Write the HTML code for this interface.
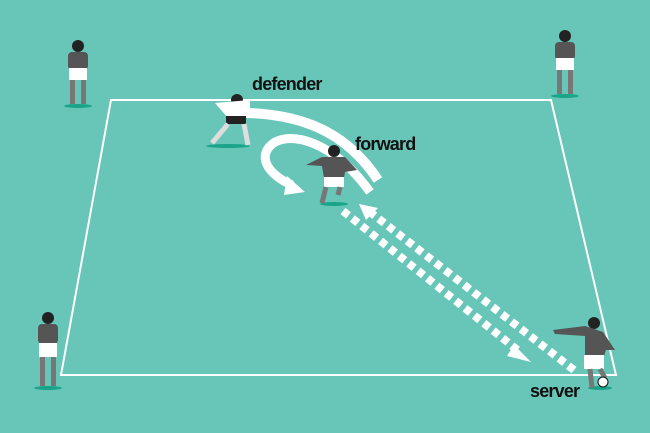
<!DOCTYPE html>
<html><head><style>
html,body{margin:0;padding:0;width:650px;height:433px;overflow:hidden;background:#67c6b8}
svg{display:block}
text{font-family:"Liberation Sans",sans-serif;font-weight:bold;font-size:18px;fill:#111;letter-spacing:-0.8px}
</style></head><body>
<svg width="650" height="433" viewBox="0 0 650 433">
<rect width="650" height="433" fill="#67c6b8"/>
<polygon points="111,100 551,100 616,375 61,375" fill="none" stroke="#fff" stroke-width="2"/>
<path d="M248,113 C300,115 345,130 378,180" fill="none" stroke="#fff" stroke-width="10"/>
<path d="M370,192 C340,150 300,130 275,142 C255,155 268,175 292,185" fill="none" stroke="#fff" stroke-width="9"/>
<polygon points="287,176 305,192 284,195" fill="#fff"/>
<line x1="343" y1="211" x2="520" y2="352" stroke="#fff" stroke-width="8" stroke-dasharray="7,5"/>
<polygon points="514,345 531,362 507,356" fill="#fff"/>
<line x1="574" y1="370" x2="370" y2="212" stroke="#fff" stroke-width="8" stroke-dasharray="7,5"/>
<polygon points="359,204 378,208 366,220" fill="#fff"/>
<g fill="#1aa58a">
<ellipse cx="78" cy="106" rx="14" ry="2"/><ellipse cx="565" cy="96" rx="14" ry="2"/>
<ellipse cx="228" cy="146" rx="22" ry="2"/><ellipse cx="334" cy="204" rx="14" ry="2"/>
<ellipse cx="48" cy="388" rx="14" ry="2"/><ellipse cx="600" cy="388" rx="12" ry="2"/>
</g>
<g>
<circle cx="78" cy="46" r="6" fill="#222"/><rect x="68" y="52" width="20" height="18" rx="4" fill="#555"/>
<rect x="69" y="68" width="18" height="12" fill="#fff"/><rect x="70" y="80" width="5" height="24" fill="#777"/><rect x="81" y="80" width="5" height="24" fill="#777"/>
<circle cx="565" cy="36" r="6" fill="#222"/><rect x="555" y="42" width="20" height="18" rx="4" fill="#555"/>
<rect x="556" y="58" width="18" height="12" fill="#fff"/><rect x="557" y="70" width="5" height="24" fill="#777"/><rect x="568" y="70" width="5" height="24" fill="#777"/>
<circle cx="48" cy="318" r="6" fill="#222"/><rect x="38" y="324" width="20" height="20" rx="4" fill="#555"/>
<rect x="39" y="343" width="18" height="14" fill="#fff"/><rect x="40" y="357" width="5" height="29" fill="#777"/><rect x="51" y="357" width="5" height="29" fill="#777"/>
<circle cx="237" cy="100" r="6" fill="#222"/><path d="M215,103 L250,100 L250,118 L228,118 Z" fill="#fff"/>
<rect x="226" y="116" width="20" height="8" fill="#222"/><path d="M228,124 L212,143 M244,124 L248,145" stroke="#ddd" stroke-width="5"/>
<circle cx="334" cy="151" r="6" fill="#222"/><path d="M306,165 L322,157 L345,157 L357,170 L345,172 L344,178 L324,178 L322,166 Z" fill="#555"/>
<rect x="324" y="177" width="20" height="10" fill="#fff"/><path d="M326,187 L322,203 M340,187 L338,195" stroke="#777" stroke-width="5"/>
<circle cx="594" cy="323" r="6" fill="#222"/><path d="M553,330 L585,326 L603,332 L615,350 L606,350 L604,356 L585,356 L585,336 L555,334 Z" fill="#555"/>
<rect x="584" y="355" width="20" height="14" fill="#fff"/><path d="M590,369 L592,388 M600,369 L605,378" stroke="#777" stroke-width="5"/>
<circle cx="603" cy="382" r="5" fill="#fff" stroke="#111"/>
</g>
<text x="252" y="90">defender</text>
<text x="355" y="150">forward</text>
<text x="530" y="397">server</text>
</svg>
</body></html>
